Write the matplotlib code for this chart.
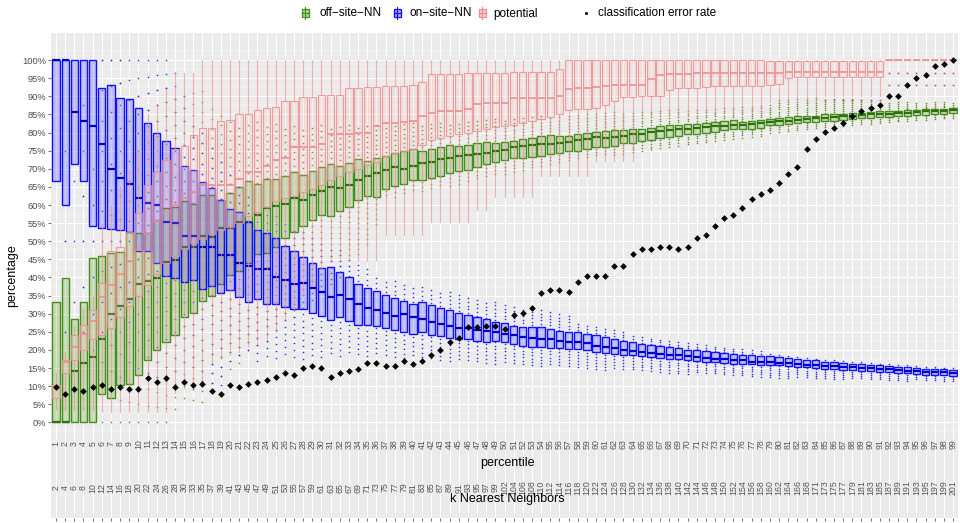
import matplotlib
matplotlib.use("Agg")
import matplotlib.pyplot as plt
from matplotlib.colors import to_rgba
from matplotlib.patches import Rectangle

plt.rcParams['font.family'] = ['Liberation Sans', 'DejaVu Sans']

# ---------------------------------------------------------------- data
pct = list(range(1, 100))
k_nn = [2, 4, 6, 8, 10, 12, 14, 16, 18, 20, 22, 24, 26, 28, 30,
        33, 35, 37, 39, 41, 43, 45, 47, 49, 51, 53, 55, 57, 59, 61, 63, 65, 67,
        69, 71, 73, 75, 77, 79, 81, 83, 85, 87, 89, 91, 93, 95, 97, 99,
        102, 104, 106, 108, 110, 112, 114, 116, 118, 120, 122, 124, 126, 128,
        130, 132, 134, 136, 138, 140, 142, 144, 146, 148, 150, 152, 154, 156,
        158, 160, 162, 164, 166, 168,
        171, 173, 175, 177, 179, 181, 183, 185, 187, 189, 191, 193, 195, 197, 199, 201]

# on-site-NN (blue)
on_q3 = [100, 100, 100, 100, 100, 92.3, 93.2, 89.5, 89.3, 86.8,
         82.6, 80.0, 77.7, 75.7, 70.9, 69.7, 66.3,
         64.8, 61.3, 59.0, 58.1, 55.4, 53.1, 52.2, 50.8, 48.7, 47.2, 45.6, 44.0, 42.6, 42.8, 41.4, 40.2, 38.3, 37.2, 36.2,
         35.3, 34.4, 33.5, 32.6, 33.2, 32.3, 31.6, 31.0, 30.1, 29.6, 29.0, 28.5, 27.8, 27.3, 26.7, 26.4, 26.2, 26.2, 25.8, 25.3, 24.9,
         24.9, 24.4, 24.0, 23.5, 23.0, 22.6, 22.1, 21.7, 21.4, 21.0, 20.8, 20.5, 20.1, 19.9, 19.6, 19.4, 19.2, 18.9, 18.7, 18.5, 18.3,
         18.3, 18.0, 17.9, 17.6, 17.3, 17.1, 16.8, 16.7, 16.5, 16.2, 16.0, 15.9, 15.8, 15.6, 15.4, 15.2, 15.0, 14.8, 14.7, 14.6, 14.4]
on_med = [100, 100, 85.6, 83.2, 81.8, 76.8, 69.9, 67.5, 65.7, 62.0,
          60.7, 59.9, 55.4, 55.1, 51.5, 51.5, 48.5,
          48.5, 46.1, 46.3, 44.0, 43.3, 42.4, 42.4, 40.2, 39.4, 38.1, 38.5, 37.1, 36.0, 34.7, 35.2, 34.2, 32.6, 31.7, 31.0,
          30.1, 29.4, 29.9, 29.1, 28.5, 27.8, 27.1, 26.5, 26.0, 26.0, 25.6, 25.3, 25.0, 24.4, 24.0, 23.5, 23.2, 22.9, 23.0, 22.6, 22.1,
          22.3, 21.9, 21.2, 20.8, 20.5, 19.9, 19.6, 19.4, 19.2, 18.9, 18.7, 18.5, 18.3, 18.0, 17.8, 17.6, 17.4, 17.1, 17.1, 16.8, 16.7,
          16.6, 16.4, 16.3, 16.1, 15.9, 15.8, 15.6, 15.5, 15.3, 15.2, 15.0, 14.9, 14.7, 14.6, 14.4, 14.3, 14.2, 14.0, 13.9, 13.8, 13.7]
on_q1 = [66.6, 60.0, 71.3, 66.6, 54.3, 53.7, 53.3, 53.1, 52.6, 47.4,
         47.3, 44.0, 40.5, 39.9, 38.7, 39.4, 36.9,
         37.6, 35.8, 36.5, 34.7, 33.2, 34.0, 32.6, 32.6, 31.9, 31.4, 31.4, 30.3, 29.4, 28.3, 29.0, 28.1, 27.0, 27.0, 26.7,
         26.0, 25.5, 24.9, 24.4, 24.9, 24.0, 23.8, 23.2, 23.1, 22.9, 22.6, 22.2, 22.6, 22.2, 21.7, 21.2, 20.9, 20.8, 20.5, 20.5, 20.3,
         20.3, 19.9, 19.4, 19.2, 18.9, 18.7, 18.5, 18.3, 18.0, 17.9, 17.6, 17.4, 17.1, 17.0, 16.8, 16.7, 16.5, 16.2, 16.2, 16.0, 15.9,
         15.9, 15.8, 15.6, 15.4, 15.2, 15.1, 14.8, 14.7, 14.5, 14.4, 14.2, 14.1, 13.9, 13.8, 13.7, 13.5, 13.4, 13.2, 13.0, 13.0, 12.8]
on_dots_hi = [None] * 5 + [100] * 8 + [
    96.7, 90, 84.6, 82.8, 78, 73, 70, 66.5, 62.9, 59.5, 58.5, 57, 55.5, 54, 53, 51.5, 50, 49, 48, 46, 44, 42.5, 41,
    39.5, 39, 38.5, 38, 37.5, 37, 36.5, 36, 35.5, 35, 34.5, 34, 33.5, 33, 32.5, 32, 31.5, 31, 30.5, 30, 29.5,
    27.5, 27, 26.5, 26, 25.5, 25, 24.6, 24.2, 23.8, 23.4, 23.0, 22.6, 22.3, 22.0, 21.7, 21.4, 21.1, 20.8, 20.5, 20.2, 19.9,
    19.2, 18.9, 18.8, 18.5, 18.2, 18.0, 17.7, 17.6, 17.4, 17.1, 16.9, 16.8, 16.7, 16.5, 16.3, 16.1, 15.9, 15.7, 15.6, 15.5, 15.3]
on_dots_lo = [None, 20, 20, 22, 15] + [12] * 7 + [13, 14, 15, 15, 9, 9, 8, 17, 17, 18] + [17] * 7 + [18] * 8 + [
    17.8, 17.6, 17.4, 17.2, 17.0, 16.8, 16.7, 16.6, 16.4, 16.2, 16.0, 15.9, 15.8, 15.7, 15.6, 15.5, 15.4, 15.3, 15.2, 15.1,
    14.8, 14.7, 14.5, 14.4, 14.3, 14.1, 14.0, 13.9, 13.8, 13.7, 13.5, 13.4, 13.3, 13.2, 13.1, 13.0, 12.9, 12.8, 12.7, 12.6, 12.5,
    12.2, 12.2, 12.1, 12.1, 12.0, 12.0, 11.9, 11.9, 11.8, 11.8, 11.7, 11.7, 11.6, 11.6, 11.5, 11.5, 11.4, 11.4, 11.3, 11.3, 11.2]

# off-site-NN (green)
off_q3 = [33.2, 39.9, 28.5, 33.2, 45.4, 46.0, 46.7, 47.0, 52.6, 52.2,
          52.2, 56.0, 59.3, 59.5, 61.1, 60.4, 62.7,
          62.7, 61.5, 63.3, 64.9, 66.6, 65.8, 67.2, 67.1, 67.9, 69.0, 68.4, 69.5, 70.4, 71.3, 70.7, 71.6, 72.7, 72.2, 73.0,
          73.6, 74.3, 75.0, 75.4, 75.0, 75.4, 76.0, 76.5, 76.3, 76.5, 77.0, 77.5, 77.2, 77.4, 77.7, 78.1, 78.6, 79.2, 79.3, 79.1, 79.1,
          79.5, 80.0, 80.1, 80.4, 80.7, 80.7, 80.9, 81.1, 81.3, 81.7, 82.0, 82.2, 82.4, 82.4, 82.7, 82.9, 83.2, 83.6, 83.0, 83.3, 83.6,
          83.8, 84.1, 84.2, 84.5, 84.5, 84.7, 85.0, 85.2, 85.2, 85.4, 85.5, 85.7, 85.9, 85.9, 86.1, 86.2, 86.3, 86.4, 86.6, 86.6, 86.8]
off_med = [0, 0, 14.1, 16.5, 18.0, 23.0, 29.9, 32.2, 34.2, 38.1,
           39.0, 39.9, 44.2, 44.7, 48.4, 48.5, 51.5,
           51.3, 53.8, 53.6, 55.4, 55.4, 57.2, 59.3, 59.7, 60.2, 61.9, 61.3, 62.7, 63.8, 64.9, 64.7, 65.4, 67.0, 67.9, 68.9,
           69.7, 70.4, 69.9, 70.7, 71.5, 72.0, 72.7, 73.1, 73.6, 73.9, 74.0, 74.5, 74.8, 75.1, 75.9, 76.3, 76.5, 76.8, 76.8, 77.2, 77.5,
           77.9, 78.3, 78.8, 78.6, 78.9, 79.2, 79.5, 79.7, 80.1, 80.4, 80.6, 80.9, 81.1, 81.3, 81.5, 81.7, 81.8, 82.2, 82.2, 82.4, 82.7,
           83.0, 83.2, 83.3, 83.6, 83.7, 83.9, 84.1, 84.2, 84.5, 84.7, 84.8, 85.0, 85.2, 85.2, 85.4, 85.5, 85.7, 85.9, 86.0, 86.1, 86.2]
off_q1 = [0, 0, 0, 0, 0, 7.8, 6.6, 10.3, 10.5, 13.0,
          17.1, 19.9, 22.1, 24.0, 29.0, 30.3, 33.5,
          34.9, 38.3, 40.8, 41.7, 44.0, 46.5, 46.7, 48.4, 50.8, 52.6, 54.2, 55.8, 57.2, 56.9, 58.4, 59.5, 61.5, 62.5, 62.2,
          64.4, 65.2, 65.7, 66.8, 67.0, 67.5, 68.1, 68.8, 69.3, 69.7, 70.6, 71.3, 72.0, 72.4, 73.1, 73.1, 73.3, 73.6, 74.2, 74.5, 75.0,
          74.8, 75.4, 75.9, 76.0, 76.3, 77.0, 77.2, 77.7, 77.9, 78.4, 78.9, 79.1, 79.5, 79.7, 80.0, 80.2, 80.6, 80.9, 81.1, 81.1, 81.3,
          82.1, 82.2, 82.4, 82.6, 82.8, 83.0, 83.2, 83.3, 83.6, 83.8, 83.9, 84.1, 84.2, 84.3, 84.5, 84.6, 84.8, 84.9, 85.2, 85.2, 85.3]
off_dots_hi = [None, 80, None, 89, 73, 100, 100, 100, 93, 91.5, 92.7, 94, 94, 92, 92, 91.6, 92.3, 87.2, 85.4, 84,
               83.5, 83, 83, 82.5, 82.5, 82, 82, 82, 82, 82, 82.3, 82.3, 82.5, 82.5, 82.7, 82.7, 82.7] + [83] * 8 + [
    83.3, 83.5, 83.7, 83.9, 84.1, 84.3, 84.5, 84.6, 84.7, 84.8, 84.9, 85.0,
    85.4, 85.5, 85.6, 85.7, 85.8, 85.9, 86.0, 86.1, 86.2, 86.3, 86.4, 86.5, 86.6, 86.7, 86.8, 86.9, 87.0, 87.1, 87.2, 87.3, 87.5,
    88] + [89.5] * 11 + [88.5] * 9
off_dots_lo = [None] * 5 + [0] * 8 + [
    3, 4, 4, 5, 10, 12, 14, 16, 18, 20, 22, 24, 27, 29, 31, 33, 36, 38, 40, 43, 46, 48, 54,
    61.5, 62, 62.5, 63, 63.5, 64, 64.5, 65, 65.5, 66, 67, 67.5, 68, 68.5, 69, 69.5, 70, 70.5, 71, 71.5, 72,
    72.5, 72.8, 73.1, 73.4, 73.7, 74, 74.3, 74.6, 74.9, 75.2, 75.5, 75.8, 76.1, 76.4, 76.8, 77.2, 77.6, 78.0, 78.4, 78.7, 79,
    80, 80.2, 80.4, 80.6, 80.8, 81, 81.2, 81.4, 81.6, 81.8, 82, 82.2, 82.4, 82.6, 82.8, 83, 83.2, 83.4, 83.6, 83.8, 84]

# potential (pink)
pot_q3 = [10.3, 17.1, 24.0, 27.0, 31.1, 38.5, 47.2, 48.3, 52.6, 57.8,
          65.5, 69.2, 72.5, 75.5, 76.2, 79.4, 81.2,
          81.3, 83.1, 83.5, 85.1, 85.1, 86.2, 86.7, 87.1, 88.7, 88.7, 89.7, 89.7, 90.4, 90.4, 90.4, 92.3, 92.3, 92.5, 92.6,
          93.0, 93.0, 93.0, 93.2, 93.9, 96.1, 96.1, 96.1, 96.1, 96.4, 96.4, 96.4, 96.4, 96.4, 96.6, 96.6, 96.6, 96.6, 96.6, 97.5, 100] + \
         [100] * 21 + [99.7] * 13 + [100] * 8
pot_med = [10.0, 16.7, 20.8, 24.3, 28.0, 34.5, 37.9, 41.0, 44.6, 47.5,
           51.9, 55.7, 58.1, 60.0, 62.0, 63.5, 65.5,
           65.5, 65.4, 65.4, 67.2, 69.0, 69.0, 70.9, 72.4, 73.1, 75.9, 75.9, 75.9, 76.8, 79.5, 79.5, 79.7, 79.9, 79.9, 81.8,
           82.7, 82.7, 83.0, 83.2, 84.5, 85.4, 86.1, 86.1, 86.1, 86.6, 88.0, 88.3, 88.3, 88.3, 89.5, 89.5, 89.5, 89.5, 89.5, 90.0, 92.1,
           92.3, 92.4, 92.7, 93.0, 93.2, 93.2, 93.2, 93.2, 94.8, 95.9, 96.1, 96.1, 96.2, 96.5, 96.5, 96.5, 96.5, 96.5, 96.5, 96.5, 96.5,
           96.4, 96.4] + [96.6] * 11 + [100] * 8
pot_q1 = [6.8, 13.5, 17.3, 20.0, 23.0, 24, 26, 29, 32, 35, 38, 41, 44, 46, 48, 49.5, 50.5,
          52, 53, 54, 55, 57, 58, 59.5, 61, 62, 62.4, 63.5, 64.5, 65.5, 67, 68, 69, 70, 71, 72,
          73.5, 74.3, 75, 75.5, 76.5, 78, 78.6, 79.2, 79.5, 80, 80.4, 81, 81.5, 81.8, 82.2, 82.7, 83.2, 83.7, 84.3, 85, 86.3,
          86.6, 86.6, 86.8, 87.7, 88.8, 89.8, 89.8, 90.0, 90.0, 90.0, 91.8, 92.3, 92.3, 92.3, 92.5, 93.0, 93.0, 93.0, 93.0, 93.0, 93.0,
          93.2, 93.4, 95.1] + [95.3] * 10 + [100] * 8
pot_lo = [3.7, 3.3, 3.3, 3.3, 3.3] + [3.0] * 8 + [8, 9.5, 9.5, 11] + [
    16.7, 17.5, 18.5, 19.5, 21, 22, 23, 25, 28, 31, 35, 38, 42, 44.5, 44.5, 44.5, 44.5, 44.5, 44.9] + \
    [51.7] * 5 + [55.4] * 5 + [58.6] * 2 + [62.2] * 5 + [68.1] * 6 + [72.2] * 5 + [84.5] * 6 + [85.5] * 8 + \
    [88.5] * 6 + [90] * 7 + [100] * 8
pot_hi = [13.6, 19.4, 26.7, 31.4, 35, 55, 60, 65, 70, 75, 85, 88, 92, 96.5, 96.4, 96.4] + [100] * 83
pot_dots = [(85, [89.0]), (86, [89.0]), (87, [89.0]), (88, [89.0]), (89, [89.0]), (90, [89.0]), (91, [89.0]),
            (92, [96.4, 93.2]), (93, [96.4, 93.2]), (94, [96.4, 93.2]), (95, [96.4, 93.2]),
            (96, [96.4, 93.2]), (97, [96.4, 93.2]), (98, [96.4, 93.2]), (99, [96.4, 93.2])]

# classification error rate
err_rate = [9.8, 7.9, 9.3, 8.6, 9.8, 10.2, 9.3, 9.7, 9.3, 9.3, 12.2, 11.1, 12.2, 9.8, 11.1, 10.4, 10.7,
            8.8, 7.8, 10.2, 9.7, 10.7, 11.1, 11.6, 12.6, 13.5, 13.1, 15.1, 15.6,
            15.0, 12.6, 13.5, 14.1, 14.6, 16.5, 16.5,
            15.5, 15.5, 16.9, 16.0, 16.9, 18.5, 19.9, 22.3, 23.4, 26.2, 26.2, 26.7, 26.7, 25.8, 29.7, 30.3, 31.7,
            35.6, 36.5, 36.5, 36.1,
            38.7, 40.5, 40.5, 40.5, 43.1, 43.1, 46.4, 47.9, 47.9, 48.5, 48.5, 47.9, 48.5, 51.0, 51.8, 54.3, 56.3,
            57.2, 59.3, 61.7, 63.1,
            64.2, 66.1, 68.6, 70.4, 75.4, 78.3, 80.3, 81.2, 82.7, 84.7, 86.1, 86.8, 87.7, 90.1, 90.1, 93.1, 95.0,
            96.0, 98.5, 98.9, 100]

# ---------------------------------------------------------------- style
PANEL = "#EBEBEB"
G_EDGE, G_FILL, G_MED, G_DOT = "#468C1E", "#6AAF3A", "#2F6F0F", "#6B8E23"
B_EDGE, B_FILL, B_MED, B_DOT = "#1010FF", "#0000FF", "#0000C8", "#3030FF"
P_EDGE, P_FILL, P_DOT = "#F08C8C", "#F4B0B0", "#E05050"


def box_stats(q1, med, q3, lo=None, hi=None):
    out = []
    for i in range(len(q1)):
        out.append(dict(q1=q1[i], med=med[i], q3=q3[i],
                        whislo=q1[i] if lo is None else lo[i],
                        whishi=q3[i] if hi is None else hi[i], fliers=[]))
    return out


def dot_values(p, lo, hi):
    k = k_nn[p - 1]
    return [100.0 * j / k for j in range(k + 1) if lo <= 100.0 * j / k <= hi]


fig = plt.figure(figsize=(9.6, 5.23), dpi=100)
ax = fig.add_axes([51 / 960, 5 / 523, 907 / 960, 485 / 523])
ax.set_facecolor(PANEL)
for s in ax.spines.values():
    s.set_visible(False)
ax.set_xlim(0.45, 99.55)
ax.set_ylim(-26.4, 106.2)

ax.set_yticks(range(0, 101, 5))
ax.set_yticklabels([f"{v}%" for v in range(0, 101, 5)])
ax.set_yticks([-2.5 + 5 * i for i in range(23)], minor=True)
ax.set_xticks(pct)
ax.set_xticklabels([])
ax.tick_params(axis="both", which="major", length=2.0, width=0.5, color="#333333",
               labelsize=6.7, labelcolor="#4D4D4D", pad=1.5)
ax.tick_params(axis="y", which="minor", length=0)
ax.grid(which="major", color="white", lw=0.75, zorder=0)
ax.grid(which="minor", axis="y", color="white", lw=0.35, zorder=0)
ax.set_axisbelow(True)
ax.set_ylabel("percentage", fontsize=9)
ax.yaxis.set_label_coords(-0.036, 0.5)

# off-site-NN boxes
ax.bxp(box_stats(off_q1, off_med, off_q3), positions=pct, widths=0.8, patch_artist=True,
       showcaps=False, showfliers=False, manage_ticks=False, zorder=3,
       boxprops=dict(facecolor=to_rgba(G_FILL, 0.3), edgecolor=G_EDGE, linewidth=1.0),
       medianprops=dict(color=G_MED, linewidth=1.6), whiskerprops=dict(linewidth=0))
for i, p in enumerate(pct):
    ys = []
    if off_dots_hi[i] is not None:
        ys += [v for v in dot_values(p, off_q3[i], off_dots_hi[i]) if v > off_q3[i]]
    if off_dots_lo[i] is not None:
        ys += [v for v in dot_values(p, off_dots_lo[i], off_q1[i]) if v < off_q1[i]]
    ax.plot([p] * len(ys), ys, ls="none", marker="o", ms=1.2, mew=0, color=G_DOT, zorder=3.5)

# on-site-NN boxes
ax.bxp(box_stats(on_q1, on_med, on_q3), positions=pct, widths=0.8, patch_artist=True,
       showcaps=False, showfliers=False, manage_ticks=False, zorder=4,
       boxprops=dict(facecolor=to_rgba(B_FILL, 0.2), edgecolor=B_EDGE, linewidth=1.0),
       medianprops=dict(color=B_MED, linewidth=1.6), whiskerprops=dict(linewidth=0))
for i, p in enumerate(pct):
    ys = []
    if on_dots_hi[i] is not None:
        ys += [v for v in dot_values(p, on_q3[i], on_dots_hi[i]) if v > on_q3[i]]
    if on_dots_lo[i] is not None:
        ys += [v for v in dot_values(p, on_dots_lo[i], on_q1[i]) if v < on_q1[i]]
    ax.plot([p] * len(ys), ys, ls="none", marker="o", ms=1.2, mew=0, color=B_DOT, zorder=4.5)

# potential boxes
ax.bxp(box_stats(pot_q1, pot_med, pot_q3, pot_lo, pot_hi), positions=pct, widths=0.8,
       patch_artist=True, showcaps=False, showfliers=False, manage_ticks=False, zorder=5,
       boxprops=dict(facecolor=to_rgba(P_FILL, 0.2), edgecolor=to_rgba(P_EDGE, 0.8), linewidth=0.8),
       medianprops=dict(color=to_rgba(P_EDGE, 0.9), linewidth=1.3),
       whiskerprops=dict(color=to_rgba(P_EDGE, 0.7), linewidth=0.8))
for p, ys in pot_dots:
    ax.plot([p] * len(ys), ys, ls="none", marker="o", ms=1.4, mew=0, color=P_DOT, zorder=5.5)

# classification error rate
ax.plot(pct, err_rate, ls="none", marker="D", ms=3.4, mew=0, color="black", zorder=8)

# in-panel axis labels
for p, k in zip(pct, k_nn):
    ax.text(p, -5.9, str(p), rotation=90, ha="center", va="center", fontsize=6.3, color="#555555")
    ax.text(p, -18.0, str(k), rotation=90, ha="center", va="center", fontsize=6.3, color="#555555")
ax.text(50.3, -11.3, "percentile", ha="center", va="center", fontsize=9)
ax.text(50.3, -21.2, "k Nearest Neighbors", ha="center", va="center", fontsize=9)

# legend
lax = fig.add_axes([0, 0, 1, 1], zorder=10)
lax.set_xlim(0, 960)
lax.set_ylim(523, 0)
lax.axis("off")


def key(cx, cy, fill, alpha, edge):
    lax.plot([cx, cx], [cy - 6, cy + 6], color=edge, lw=0.8)
    lax.add_patch(Rectangle((cx - 3.5, cy - 4), 7, 8, facecolor=to_rgba(fill, alpha),
                            edgecolor=edge, lw=0.9))
    lax.plot([cx - 3.5, cx + 3.5], [cy, cy], color=edge, lw=0.9)


BASE = 16.5
LFS = 8.5
key(305, 12.5, G_FILL, 0.55, G_EDGE)
lax.text(320, BASE, "off\u2212site\u2212NN", va="baseline", ha="left", fontsize=LFS)
key(397, 12.5, B_FILL, 0.35, B_EDGE)
lax.text(409, BASE, "on\u2212site\u2212NN", va="baseline", ha="left", fontsize=LFS)
key(482, 12.5, P_FILL, 0.6, P_EDGE)
lax.text(493, BASE, "potential", va="baseline", ha="left", fontsize=LFS)
lax.plot([586], [12.5], marker="o", ms=2.2, mew=0, color="black")
lax.text(598, BASE, "classification error rate", va="baseline", ha="left", fontsize=LFS)

fig.savefig("out.png", dpi=100, facecolor="white")
